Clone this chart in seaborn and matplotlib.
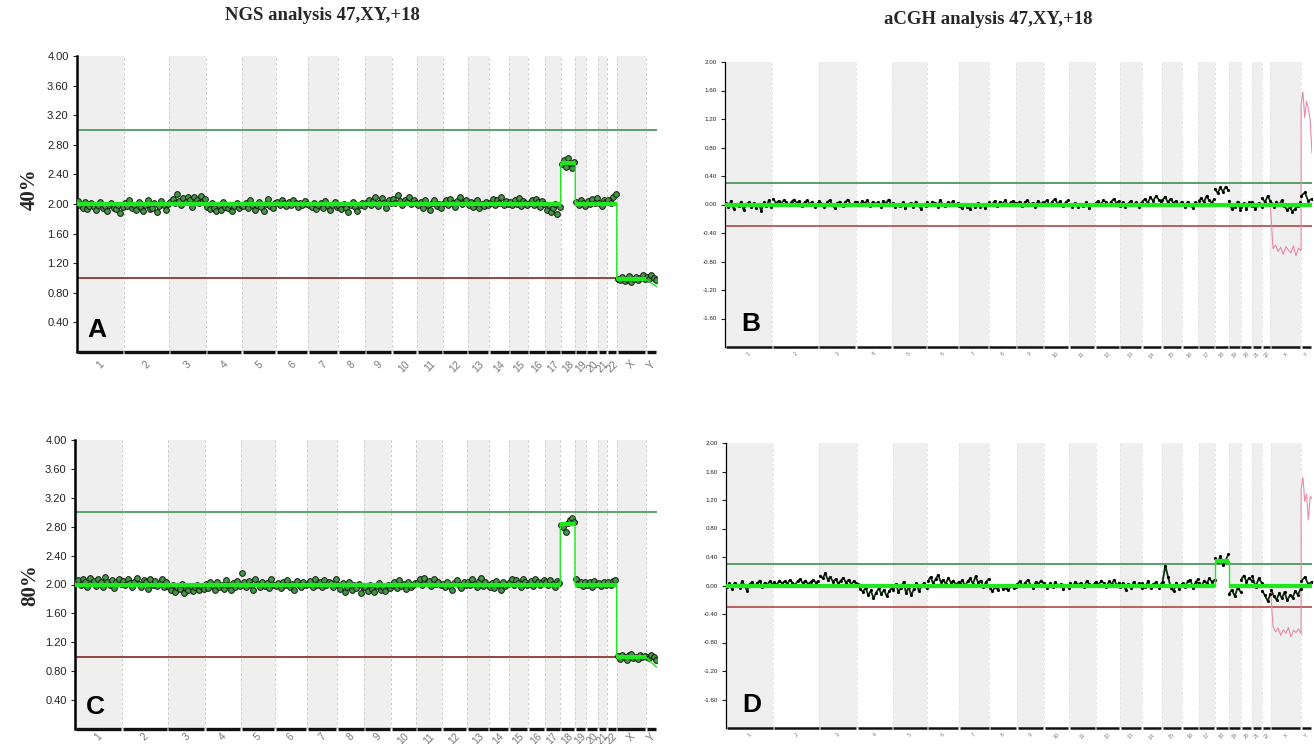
import numpy as np
import pandas as pd
import matplotlib
matplotlib.use("Agg")
import matplotlib.pyplot as plt
import seaborn as sns

sns.set_theme(style="white")
plt.rcParams["font.family"] = ["Liberation Sans", "DejaVu Sans"]

# ---------------- categories ----------------
chroms = [str(i) for i in range(1, 23)] + ["X", "Y"]
# NGS x-scale: chromosome length (Mb, hg19)
chrom_len_mb = [249.25, 243.20, 198.02, 191.15, 180.92, 171.12, 159.14, 146.36,
                141.21, 135.53, 135.01, 133.85, 115.17, 107.35, 102.53, 90.35,
                81.20, 78.08, 59.13, 63.03, 48.13, 51.30, 155.27, 59.37]
# aCGH x-scale: relative probe-count width per chromosome
acgh_width = [113, 110, 90, 85, 83, 76, 72, 66, 65, 60, 63, 58, 53, 48, 48, 39,
              39, 33, 29, 27, 24, 20, 73, 26]

ngs_yticks = [0.40, 0.80, 1.20, 1.60, 2.00, 2.40, 2.80, 3.20, 3.60, 4.00]
acgh_yticks = [-1.60, -1.20, -0.80, -0.40, 0.00, 0.40, 0.80, 1.20, 1.60, 2.00]
ngs_gain, ngs_loss = 3.0, 1.0
acgh_gain, acgh_loss = 0.3, -0.3

# ---------------- NGS copy number bins (x100) ----------------
ngs40_values = [
    [204,199,195,203,193,197,201,196,192,198,203,194,197,190,199,202,195,193,198,188,196],
    [201,197,205,194,199,192,203,196,190,198,206,193,195,201,189,197,204,199,192,200],
    [203,207,201,213,204,199,208,203,210,205,196,209,206,202,211,204,207],
    [196,193,201,195,190,198,192,203,196,194,199,191,197,202,195,198],
    [197,201,194,205,199,192,198,203,196,190,200,207,197,194,201],
    [203,198,205,201,197,203,199,206,201,196,202,198,204,200],
    [199,196,202,193,198,201,195,204,197,192,199,203,196],
    [197,193,200,195,189,198,203,196,191,199,202,197],
    [201,206,199,204,210,197,203,208,201,195,205,202],
    [207,201,212,204,198,206,203,209,200,205,202],
    [199,203,194,205,198,192,201,206,197,200,195],
    [202,205,198,207,201,196,204,209,200,203,206],
    [198,203,196,201,205,194,200,197,203,199],
    [202,207,199,205,201,209,198,204,200],
    [203,198,206,200,208,197,204,201,199],
    [201,205,198,207,203,196,204,200],
    [192,198,189,195,200,187,196],
    [254,259,250,262,255,248,257],
    [203,199,206,201,197],
    [204,200,207,202,208],
    [201,197,205,203],
    [206,202,210,213],
    [99,97,101,96,98,103,95,99,102,97,100,104,98],
    [102,99,104,100,97],
]
ngs80_values = [
    [203,206,199,208,204,197,209,202,205,198,207,203,196,210,204,200,206,195,203,208,201],
    [205,199,207,202,196,204,209,201,197,206,203,194,208,200,205,198,202,207,196,203],
    [196,193,199,190,197,194,201,188,195,192,198,191,196,200,193,197,194],
    [201,195,204,198,192,203,197,200,194,206,199,193,202,196,205,198],
    [216,203,197,205,199,193,207,201,196,204,198,202,195,208,200],
    [198,202,195,204,199,206,197,201,193,205,200,196,203,199],
    [201,205,197,208,200,203,196,206,199,204,202,197,207],
    [199,194,202,190,197,203,192,199,195,201,188,196],
    [196,191,200,194,189,198,202,193,197,191,199,195],
    [199,203,195,206,198,201,194,204,197,200,202],
    [203,207,199,209,202,205,198,208,201,204,200],
    [201,196,204,198,193,202,206,199,195,203,200],
    [204,199,207,201,196,205,209,198,203,200],
    [197,202,195,205,199,192,203,198,201],
    [204,208,200,206,202,197,207,203,199],
    [201,205,198,207,203,199,204,206],
    [203,199,206,201,197,205,202],
    [283,279,273,285,289,292,287],
    [208,201,204,198,203],
    [199,203,197,205,201],
    [202,198,204,200],
    [203,199,205,206],
    [101,97,103,99,96,102,104,98,100,97,103,99,101],
    [100,98,102,99,96],
]
ngs40_segments = [2.00,2.00,2.00,2.00,2.00,2.00,2.00,2.00,2.00,2.00,2.00,2.00,
                  2.00,2.00,2.00,2.00,2.00,2.55,2.00,2.00,2.00,2.00,0.98,0.98]
ngs80_segments = [2.00,2.00,2.00,2.00,2.00,2.00,2.00,2.00,2.00,2.00,2.00,2.00,
                  2.00,2.00,2.00,2.00,2.00,2.84,2.00,2.00,2.00,2.00,0.99,0.99]
ngs40_tail = 0.88
ngs80_tail = 0.85

# ---------------- aCGH log2 ratio trace (x100) ----------------
acgh40_values = [
    [2,-3,5,-6,1,-2,4,-8,0,3,-4,2,-5,1,-9,3,-2,6,-3],
    [8,2,5,1,6,3,-1,4,7,2,5,-2,3,6,1,4,-3,2],
    [5,1,-4,3,6,0,-5,2,4,-2,3,7,1,-1,4],
    [3,-1,5,2,6,-2,4,1,3,-3,5,2,7,0],
    [2,-4,1,-2,3,-5,0,2,-3,4,-1,-6,1,-2],
    [3,-1,4,2,-3,6,1,-2,3,0,5,-1,2],
    [-2,-5,1,-3,-6,0,-4,2,-3,-1,-5,1],
    [3,0,5,-2,4,1,6,-1,3,5,2],
    [1,4,-2,3,6,0,2,-3,5,1,3],
    [2,6,-1,4,8,1,5,-2,3,6],
    [0,-3,2,-4,1,-2,3,-5,0,-1],
    [2,5,0,6,3,-1,4,8,2,5],
    [-2,3,-4,1,5,-1,3,-3,2],
    [4,8,2,10,5,12,7,3],
    [6,11,3,8,2,5,-1,4],
    [2,-3,4,0,-5,3,1],
    [5,9,3,12,6,2,8],
    [22,16,24,18,25,20],
    [5,-6,-3,4,-8],
    [-4,2,-6,3,-2],
    [4,-7,2,-3],
    [9,3,12,5],
    [2,-3,4,-1,6,-2,-8,-4,-10,-6,-2,3],
    [12,17,5,8],
]
acgh80_values = [
    [-2,3,-5,4,1,-3,6,0,-8,2,5,-1,3,7,-2,4,1,6,2],
    [5,1,7,3,6,2,8,4,1,6,9,3,7,2,5,8,4,6],
    [14,10,17,8,12,5,9,3,7,11,4,8,2,6,3],
    [2,-5,-9,-3,-14,-7,-18,-10,-4,-12,-6,-15,-8,-3],
    [-6,2,-9,-3,5,-11,-2,-14,-5,3,-8,-1,4,-4],
    [6,12,3,9,15,5,8,2,11,4,7,1,5],
    [3,8,-1,6,10,2,13,4,7,-2,5,9],
    [-4,-8,-2,-6,1,-5,-3,-7,0,-4,-2],
    [2,6,-1,4,8,1,-3,5,2,7,3],
    [0,-4,3,-2,5,-1,2,-5,1,-3],
    [3,-1,5,1,4,-2,6,2,-1,4],
    [5,1,7,3,-2,6,2,8,0,4],
    [-2,4,-6,2,-3,5,-1,3,-4],
    [3,-2,6,-4,2,5,-3,4],
    [5,28,12,-3,-8,4,-5,2],
    [3,-2,6,8,-3,5,9],
    [4,-1,7,3,10,5,8],
    [38,33,41,29,36,44],
    [-12,-6,-15,-3,-9],
    [8,14,5,11,6],
    [13,-2,10,3],
    [-8,-14,-22,-12],
    [-6,-15,-20,-11,-18,-9,-21,-14,-17,-8,-13,-5],
    [6,12,2,5],
]
acgh40_segments = [0.00,0.00,0.00,0.00,0.00,0.00,0.00,0.00,0.00,0.00,0.00,0.00,
                   0.00,0.00,0.00,0.00,0.00,0.00,0.00,0.00,0.00,0.00,0.00,0.00]
acgh80_segments = [0.00,0.00,0.00,0.00,0.00,0.00,0.00,0.00,0.00,0.00,0.00,0.00,
                   0.00,0.00,0.00,0.00,0.00,0.35,0.00,0.00,0.00,0.00,0.00,0.00]
# sex-mismatched reference trace (pink) on X and Y (x100)
acgh40_pink_x = [-5,-62,-57,-66,-60,-70,-59,-64,-68,-58,-72,-61,-65]
acgh40_pink_y = [140,158,122,145,135,118,72]
acgh80_pink_x = [-8,-58,-65,-60,-70,-62,-67,-59,-72,-63,-66,-61,-68]
acgh80_pink_y = [135,152,118,128,92,125,122]

# ---------------- styles ----------------
SHADE = "#efefef"
SEG_GREEN = "#1fe81f"
W_PX, H_PX = 1314, 744

fig = plt.figure(figsize=(W_PX / 100, H_PX / 100), dpi=100)


def add_ax(l, t, r, b):
    return fig.add_axes([l / W_PX, 1 - b / H_PX, (r - l) / W_PX, (b - t) / H_PX])


def layout(widths):
    w = np.asarray(widths, float)
    ends = np.cumsum(w)
    return ends - w, ends


def bins_frame(values, starts, ends, even_pad=None):
    rows = []
    for c, s, e, vs in zip(chroms, starts, ends, values):
        n = len(vs)
        if even_pad is None:
            frac = (np.arange(n) + 0.5) / n
        else:
            frac = even_pad + (1 - 2 * even_pad) * np.arange(n) / max(n - 1, 1)
        for f, v in zip(frac, vs):
            rows.append((c, s + f * (e - s), v / 100.0))
    return pd.DataFrame(rows, columns=["chrom", "x", "value"])


def common_frame(ax, starts, ends, ylim, yticks, ytick_fs, xtick_fs, spine_lw,
                 axis_lw, dash_color, xpad):
    total = ends[-1]
    ax.set_xlim(0, total)
    ax.set_ylim(*ylim)
    for i, (s, e) in enumerate(zip(starts, ends)):
        if i % 2 == 0:
            ax.axvspan(s, e, color=SHADE, lw=0, zorder=0)
    for b in list(ends):
        ax.axvline(b, color=dash_color, ls=(0, (2.5, 2.5)), lw=0.7, zorder=0.5)
    ax.set_yticks(yticks)
    ax.set_yticklabels([f"{t:.2f}" for t in yticks], fontsize=ytick_fs, color="#222")
    centers = (starts + ends) / 2
    ax.set_xticks(centers)
    ax.set_xticklabels(chroms, rotation=45, fontsize=xtick_fs, color="#777")
    ax.tick_params(axis="x", length=0, pad=xpad)
    ax.tick_params(axis="y", length=3, width=0.8, color="#222", left=True, pad=3)
    for sp in ["top", "right", "bottom"]:
        ax.spines[sp].set_visible(False)
    ax.spines["left"].set_color("black")
    ax.spines["left"].set_linewidth(spine_lw)
    gap = total * 0.0013
    ax.hlines([ylim[0]] * len(starts), starts + gap, ends - gap, color="#111",
              lw=axis_lw, clip_on=False, zorder=6)
    ax.set_xlabel("")
    ax.set_ylabel("")
    ax.grid(False)


def draw_steps(ax, starts, ends, levels, tail=None, thick_skip_last=False):
    xs, ys = [], []
    for s, e, lv in zip(starts, ends, levels):
        xs += [s, e]
        ys += [lv, lv]
    if tail is not None:
        ys[-1] = tail
    step = pd.DataFrame({"x": xs, "y": ys})
    sns.lineplot(data=step, x="x", y="y", sort=False, estimator=None, ax=ax,
                 color=SEG_GREEN, lw=1.0, zorder=4)
    n = len(levels) - 1 if thick_skip_last else len(levels)
    ax.hlines(levels[:n], starts[:n], ends[:n], color=SEG_GREEN, lw=3.0, zorder=4)


def draw_ngs(ax, values, segments, tail, letter, xpad):
    starts, ends = layout(chrom_len_mb)
    common_frame(ax, starts, ends, (0, 4.0), ngs_yticks, 8, 7.5, 1.8, 2.4, "#c9c9c9", xpad)
    ax.axhline(ngs_gain, color="#4f9a5f", lw=1.3, zorder=1)
    ax.axhline(ngs_loss, color="#8a3636", lw=1.3, zorder=1)
    df = bins_frame(values, starts, ends)
    sns.scatterplot(data=df, x="x", y="value", ax=ax, s=17, color="#3f9b3f",
                    edgecolor="#151515", linewidth=0.7, zorder=3, legend=False)
    draw_steps(ax, starts, ends, segments, tail=tail, thick_skip_last=True)
    ax.set_xlabel("")
    ax.set_ylabel("")
    ax.text(0.018, 0.033, letter, transform=ax.transAxes, fontsize=19,
            fontweight="bold", ha="left", va="bottom", color="black", zorder=7)


def draw_acgh(ax, values, segments, pink_x, pink_y, letter):
    starts, ends = layout(acgh_width)
    common_frame(ax, starts, ends, (-2.0, 2.0), acgh_yticks, 4.5, 4, 0.9, 1.8, "#e2e2e2", 3)
    ax.axhline(acgh_gain, color="#3f8f4f", lw=1.2, zorder=1)
    ax.axhline(acgh_loss, color="#b04848", lw=1.2, zorder=1)
    df = bins_frame(values, starts, ends, even_pad=0.02)
    ix, iy = chroms.index("X"), chroms.index("Y")
    pink = pd.concat([
        bins_frame([pink_x], [starts[ix]], [ends[ix]], even_pad=0.0),
        bins_frame([pink_y], [starts[iy]], [ends[iy]], even_pad=0.0),
    ], ignore_index=True)
    sns.lineplot(data=pink, x="x", y="value", sort=False, estimator=None, ax=ax,
                 color="#e98aa8", lw=0.8, zorder=2)
    sns.lineplot(data=df, x="x", y="value", units="chrom", estimator=None,
                 sort=False, ax=ax, color="#0b300b", lw=1.3, zorder=3)
    sns.scatterplot(data=df, x="x", y="value", ax=ax, s=5, color="#000000",
                    linewidth=0, zorder=3, legend=False)
    draw_steps(ax, starts, ends, segments)
    ax.set_xlabel("")
    ax.set_ylabel("")
    ax.text(0.027, 0.037, letter, transform=ax.transAxes, fontsize=19,
            fontweight="bold", ha="left", va="bottom", color="black", zorder=7)


axA = add_ax(77, 56, 657, 352)
axC = add_ax(75, 440, 657, 729)
axB = add_ax(725, 62, 1312, 347)
axD = add_ax(726, 443, 1312, 728)

draw_ngs(axA, ngs40_values, ngs40_segments, ngs40_tail, "A", 5)
draw_ngs(axC, ngs80_values, ngs80_segments, ngs80_tail, "C", 1.5)
draw_acgh(axB, acgh40_values, acgh40_segments, acgh40_pink_x, acgh40_pink_y, "B")
draw_acgh(axD, acgh80_values, acgh80_segments, acgh80_pink_x, acgh80_pink_y, "D")

serif = ["Liberation Serif", "DejaVu Serif"]
fig.text(322 / W_PX, 1 - 16 / H_PX, "NGS analysis 47,XY,+18", ha="center", va="center",
         fontsize=13.5, fontweight="bold", family=serif)
fig.text(988 / W_PX, 1 - 20 / H_PX, "aCGH analysis 47,XY,+18", ha="center", va="center",
         fontsize=13.5, fontweight="bold", family=serif)
fig.text(30 / W_PX, 1 - 189 / H_PX, "40%", rotation=90, ha="center", va="center",
         fontsize=15, fontweight="bold", family=serif)
fig.text(30 / W_PX, 1 - 585 / H_PX, "80%", rotation=90, ha="center", va="center",
         fontsize=15, fontweight="bold", family=serif)

fig.savefig("out.png", dpi=100, facecolor="white")
